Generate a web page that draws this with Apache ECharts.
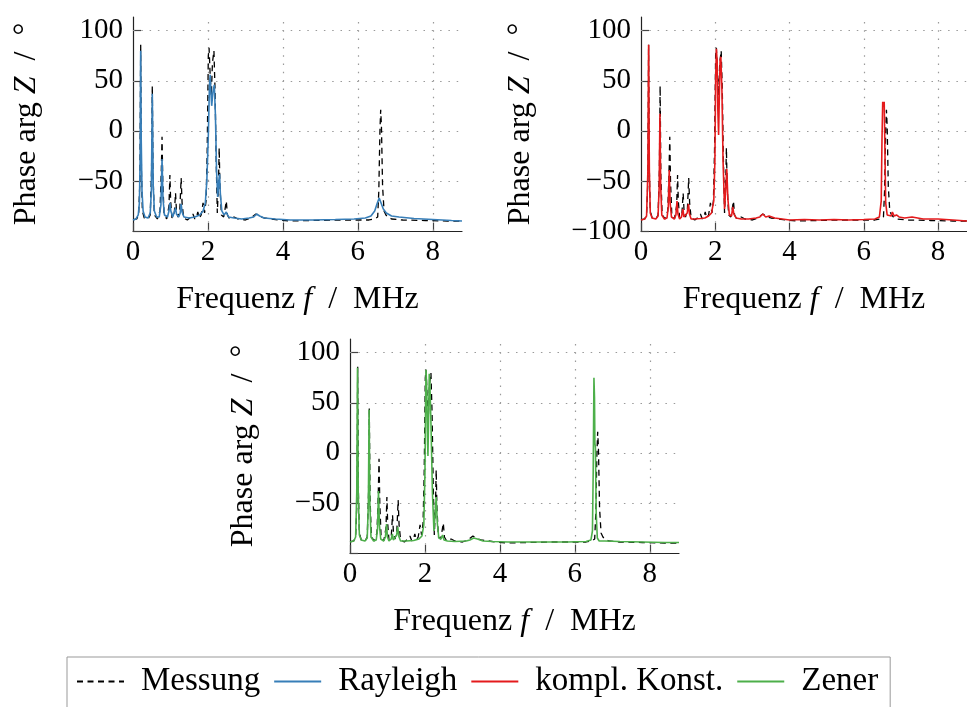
<!DOCTYPE html>
<html>
<head>
<meta charset="utf-8">
<script src="https://cdn.jsdelivr.net/npm/echarts@6/dist/echarts.min.js"></script>
<style>
  html, body { margin: 0; padding: 0; background: #fff; }
  #chart { width: 967px; height: 707px; }
</style>
</head>
<body>
<div id="chart"></div>
<script>
// Tick values and series names
const xTicks = [0, 2, 4, 6, 8];
const yTicks = [-100, -50, 0, 50, 100];
const seriesNames = ['Messung', 'Rayleigh', 'kompl. Konst.', 'Zener'];

// Measured phase [frequency in MHz, phase in degrees]
const messung = [
  [0,-89],[0.1,-88],[0.15,-84],[0.185,-50],[0.205,86],[0.225,-40],[0.25,-80],[0.3,-87],[0.4,-88],
  [0.46,-84],[0.495,-40],[0.515,45],[0.535,-45],[0.57,-84],[0.65,-88],[0.72,-80],[0.755,-40],[0.775,-6],
  [0.795,-50],[0.83,-84],[0.9,-88],[0.96,-75],[0.985,-44],[1.005,-70],[1.04,-87],[1.1,-84],[1.135,-62],
  [1.16,-80],[1.2,-86],[1.25,-78],[1.285,-47],[1.31,-72],[1.35,-87],[1.45,-89],[1.55,-86],[1.6,-83],
  [1.65,-88],[1.7,-85],[1.73,-81],[1.77,-87],[1.82,-84],[1.87,-72],[1.91,-82],[1.95,-70],[1.98,-20],
  [2.01,75],[2.03,83],[2.06,55],[2.09,35],[2.12,68],[2.16,80],[2.19,40],[2.22,-30],[2.25,-82],[2.28,-55],
  [2.3,-17],[2.32,-55],[2.36,-84],[2.42,-86],[2.47,-75],[2.49,-70],[2.52,-84],[2.58,-88],[2.7,-86],
  [2.8,-88],[3.0,-89],[3.15,-87],[3.28,-83],[3.4,-86],[3.5,-87],[3.7,-88],[3.9,-89],[4.2,-90],[4.8,-89.5],
  [5.4,-89],[6.0,-89],[6.3,-89],[6.45,-88],[6.53,-86],[6.56,-60],[6.59,0],[6.61,21],[6.63,5],[6.66,-55],
  [6.7,-80],[6.75,-84],[6.8,-86],[6.9,-88],[7.2,-89],[7.8,-89.5],[8.4,-90],[8.78,-90]
];

// Rayleigh damping model
const rayleigh = [
  [0,-89],[0.08,-88],[0.14,-84],[0.17,-72],[0.19,-30],[0.205,80],[0.22,-10],[0.24,-60],[0.27,-80],
  [0.32,-86],[0.4,-87],[0.46,-82],[0.49,-60],[0.515,37],[0.54,-55],[0.57,-80],[0.63,-86],[0.7,-86],
  [0.745,-74],[0.775,-28],[0.8,-68],[0.84,-84],[0.92,-86],[0.96,-80],[0.985,-72],[1.01,-80],[1.06,-86],
  [1.1,-85],[1.135,-77],[1.16,-83],[1.22,-86],[1.26,-82],[1.285,-73],[1.31,-81],[1.36,-86],[1.5,-87],
  [1.65,-86],[1.78,-84],[1.87,-80],[1.93,-72],[1.97,-50],[2.01,-5],[2.04,45],[2.06,56],[2.08,38],
  [2.1,25],[2.13,38],[2.17,46],[2.2,15],[2.23,-40],[2.26,-66],[2.29,-50],[2.31,-43],[2.33,-62],[2.37,-80],
  [2.43,-84],[2.49,-81],[2.55,-86],[2.7,-87],[2.9,-88],[3.1,-87],[3.22,-86],[3.3,-83],[3.38,-85],
  [3.5,-87],[3.8,-88],[4.2,-89],[4.8,-89],[5.4,-88.5],[5.9,-88],[6.2,-87],[6.35,-85],[6.45,-80],
  [6.52,-72],[6.57,-67],[6.62,-72],[6.68,-78],[6.76,-82],[6.9,-85],[7.1,-86],[7.5,-87.5],[8.0,-88.5],
  [8.5,-89.5],[8.78,-90]
];

// Complex-constant damping model
const komplKonst = [
  [0,-89],[0.1,-88],[0.15,-85],[0.185,-40],[0.205,86],[0.225,-40],[0.25,-82],[0.3,-87],[0.4,-88],
  [0.46,-85],[0.49,-55],[0.51,17],[0.53,-55],[0.56,-84],[0.63,-88],[0.7,-87],[0.735,-76],[0.76,-39],
  [0.785,-72],[0.82,-86],[0.9,-88],[0.94,-84],[0.97,-70],[0.995,-83],[1.04,-88],[1.09,-86],[1.13,-78],
  [1.155,-86],[1.2,-87],[1.245,-82],[1.28,-73],[1.305,-83],[1.35,-88],[1.45,-88],[1.6,-87.5],[1.72,-87],
  [1.82,-85],[1.9,-82],[1.96,-70],[1.99,-30],[2.01,50],[2.03,82],[2.05,70],[2.07,20],[2.09,-4],[2.11,35],
  [2.13,70],[2.15,74],[2.18,40],[2.21,-30],[2.25,-78],[2.28,-60],[2.31,-38],[2.34,-68],[2.38,-84],
  [2.44,-85],[2.47,-76],[2.5,-83],[2.56,-87],[2.7,-88],[2.9,-88],[3.1,-87],[3.2,-86],[3.28,-83],
  [3.36,-86],[3.45,-85],[3.6,-87],[3.8,-88],[4.0,-89],[4.4,-88.5],[4.8,-89],[5.2,-88.5],[5.6,-89],
  [6.0,-88.5],[6.3,-88],[6.42,-86],[6.47,-70],[6.49,-10],[6.51,29],[6.53,24],[6.55,29],[6.57,-20],
  [6.59,-72],[6.63,-84],[6.68,-83],[6.74,-85],[6.77,-81],[6.82,-85],[6.88,-84],[6.95,-86],[7.1,-87],
  [7.3,-86],[7.6,-88],[8.0,-88],[8.4,-89],[8.78,-90]
];

// Zener damping model
const zener = [
  [0,-89],[0.1,-88],[0.15,-84],[0.18,-40],[0.2,85],[0.22,-40],[0.25,-82],[0.3,-87],[0.4,-88],
  [0.46,-85],[0.49,-50],[0.51,43],[0.53,-50],[0.56,-84],[0.63,-88],[0.7,-87],[0.735,-76],[0.76,-38],
  [0.785,-72],[0.82,-86],[0.9,-88],[0.945,-84],[0.975,-71],[1.0,-84],[1.04,-88],[1.1,-86],[1.13,-81],
  [1.155,-87],[1.2,-87],[1.245,-82],[1.275,-74],[1.3,-83],[1.35,-88],[1.5,-88],[1.7,-87.5],[1.84,-86],
  [1.92,-83],[1.97,-72],[2.0,-20],[2.02,60],[2.03,83],[2.05,60],[2.07,10],[2.08,-3],[2.1,40],[2.115,79],
  [2.13,72],[2.16,30],[2.2,-40],[2.24,-78],[2.27,-62],[2.3,-44],[2.33,-70],[2.37,-85],[2.43,-86],
  [2.47,-82],[2.51,-87],[2.6,-88],[2.8,-88.5],[3.1,-88],[3.2,-87],[3.3,-85],[3.4,-86],[3.55,-88],
  [3.8,-88.5],[4.2,-89],[5,-89],[5.8,-89],[6.3,-88.5],[6.43,-87],[6.47,-78],[6.49,-20],[6.51,75],
  [6.525,55],[6.535,10],[6.55,5],[6.57,-60],[6.6,-85],[6.65,-88],[6.8,-88],[7.2,-88.5],[7.8,-89],
  [8.4,-89.5],[8.78,-89.5]
];

const FONT = 'Liberation Serif';
const FS_TICK = 29;
const FS_TEXT = 32;
const FS_LEGEND = 33;
const colors = { Messung: '#000000', Rayleigh: '#377eb8', 'kompl. Konst.': '#e41a1c', Zener: '#4daf4a' };

// Three panels: position, model curve and whether the -100 label is shown
const panels = [
  { left: 133, top: 17, model: 'Rayleigh', data: rayleigh, showMin: false, nameGap: 90 },
  { left: 641, top: 17, model: 'kompl. Konst.', data: komplKonst, showMin: true, nameGap: 104 },
  { left: 350, top: 339, model: 'Zener', data: zener, showMin: false, nameGap: 90 }
];

const fmt = v => (v < 0 ? '\u2212' + Math.abs(v) : String(v));
const richName = {
  n: { fontFamily: FONT, fontSize: FS_TEXT, color: '#000' },
  i: { fontFamily: FONT, fontSize: FS_TEXT, color: '#000', fontStyle: 'italic' }
};

const grid = [], xAxis = [], yAxis = [], series = [];
panels.forEach((p, k) => {
  grid.push({ left: p.left, top: p.top, width: 329, height: 214, containLabel: false });
  xAxis.push({
    type: 'value', gridIndex: k, min: 0, max: 8.78, interval: 2,
    axisLine: { show: true, onZero: false, lineStyle: { color: '#222', width: 1.2 } },
    axisTick: { show: true, inside: true, length: 8, customValues: xTicks, lineStyle: { color: '#444', width: 1.2 } },
    axisLabel: { customValues: xTicks, margin: 7, color: '#000', fontFamily: FONT, fontSize: FS_TICK, formatter: fmt },
    splitLine: { show: false },
    name: '{n|Frequenz }{i|f}{n|  /  MHz}', nameLocation: 'middle', nameGap: 53,
    nameTextStyle: { rich: richName }
  });
  yAxis.push({
    type: 'value', gridIndex: k, min: -100, max: 113.7, interval: 50,
    axisLine: { show: true, onZero: false, lineStyle: { color: '#222', width: 1.2 } },
    axisTick: { show: true, inside: true, length: 8, customValues: yTicks, lineStyle: { color: '#444', width: 1.2 } },
    axisLabel: {
      customValues: yTicks, margin: 10, color: '#000', fontFamily: FONT, fontSize: FS_TICK,
      formatter: v => (v === -100 && !p.showMin ? '' : fmt(v))
    },
    splitLine: { show: false },
    name: '{n|Phase arg }{i|Z}{n|  /  °}', nameLocation: 'middle', nameGap: p.nameGap,
    nameTextStyle: { rich: richName }
  });
  // dotted grid lines at the major ticks
  series.push({
    type: 'line', xAxisIndex: k, yAxisIndex: k, data: [], silent: true,
    markLine: {
      silent: true, z: 1, symbol: ['none', 'none'], label: { show: false }, animation: false,
      lineStyle: { color: '#9a9a9a', type: [1.5, 6.8], width: 1.2 },
      emphasis: { disabled: true },
      data: yTicks.filter(v => v > -100).map(v => ({ yAxis: v }))
        .concat(xTicks.filter(v => v > 0).map(v => ({ xAxis: v })))
    }
  });
  series.push({
    name: 'Messung', type: 'line', xAxisIndex: k, yAxisIndex: k, data: messung,
    showSymbol: false, symbol: 'none', z: 2,
    lineStyle: { color: colors.Messung, width: 1.3, type: [6, 4.5] },
    itemStyle: { color: colors.Messung }
  });
  series.push({
    name: p.model, type: 'line', xAxisIndex: k, yAxisIndex: k, data: p.data,
    showSymbol: false, symbol: 'none', z: 3,
    lineStyle: { color: colors[p.model], width: 1.6 },
    itemStyle: { color: colors[p.model] }
  });
});

const chart = echarts.init(document.getElementById('chart'), null, { renderer: 'canvas' });
chart.setOption({
  animation: false,
  backgroundColor: '#fff',
  grid, xAxis, yAxis, series,
  legend: {
    data: seriesNames, left: 67, top: 657, orient: 'horizontal',
    itemWidth: 47, itemHeight: 14, itemGap: 13,
    itemStyle: { opacity: 0 },
    borderColor: '#999', borderWidth: 1, padding: [8, 12, 40, 9],
    textStyle: { fontFamily: FONT, fontSize: FS_LEGEND, color: '#000', padding: [0, 0, 0, 12] }
  }
});
</script>
</body>
</html>
